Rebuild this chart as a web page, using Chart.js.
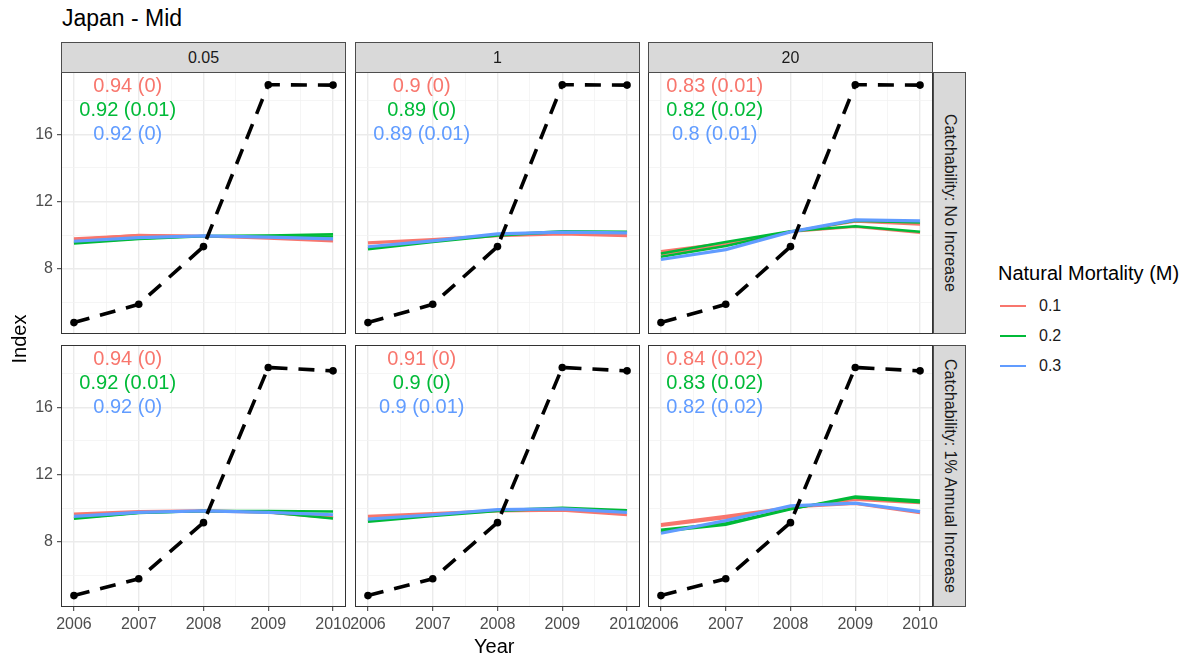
<!DOCTYPE html>
<html><head><meta charset="utf-8">
<script src="https://cdn.jsdelivr.net/npm/chart.js@4.4.1/dist/chart.umd.min.js"></script>
<style>
body{margin:0;background:#fff;width:1190px;height:658px;overflow:hidden;font-family:"Liberation Sans",Arial,sans-serif;}
#wrap{position:relative;width:1190px;height:658px;}
canvas{position:absolute;}
.txt{position:absolute;white-space:nowrap;line-height:1;}
.strip{position:absolute;background:#d9d9d9;border:1px solid #4d4d4d;box-sizing:border-box;color:#1a1a1a;font-size:16px;line-height:1;display:flex;align-items:center;justify-content:center;white-space:nowrap;}
.rstrip{writing-mode:vertical-rl;}
.key{position:absolute;height:2px;width:26px;}
</style></head><body><div id="wrap"></div>
<script>
// ---------- data ----------
const years = [2006, 2007, 2008, 2009, 2010];
const colLabels = ['0.05', '1', '20'];
const rowLabels = ['Catchability: No Increase', 'Catchability: 1% Annual Increase'];
const mLabels = ['0.1', '0.2', '0.3'];
const mColors = ['#F8766D', '#00BA38', '#619CFF'];
const yTickLabels = [8, 12, 16];
const xTickLabels = [2006, 2007, 2008, 2009, 2010];

const observedNoIncrease = [4.78, 5.87, 9.31, 18.96, 18.94];
const observedAnnualIncrease = [4.78, 5.78, 9.13, 18.38, 18.18];

// estimated indices (runs per natural mortality level)
const noInc_q005_M01 = [[9.73, 10.0, 9.93, 9.8, 9.63], [9.8, 9.98, 9.95, 9.85, 9.7]];
const noInc_q005_M02 = [[9.5, 9.77, 9.93, 9.97, 10.04], [9.55, 9.8, 9.95, 9.95, 9.92]];
const noInc_q005_M03 = [[9.63, 9.85, 9.95, 9.87, 9.77]];
const noInc_q1_M01 = [[9.53, 9.73, 9.97, 10.07, 9.97]];
const noInc_q1_M02 = [[9.18, 9.6, 10.0, 10.2, 10.17]];
const noInc_q1_M03 = [[9.3, 9.65, 10.07, 10.17, 10.13]];
const noInc_q20_M01 = [[9.03, 9.53, 10.19, 10.49, 10.13], [8.85, 9.4, 10.2, 10.8, 10.63]];
const noInc_q20_M02 = [[8.9, 9.58, 10.23, 10.52, 10.2], [8.7, 9.35, 10.2, 10.85, 10.75]];
const noInc_q20_M03 = [[8.54, 9.13, 10.19, 10.9, 10.84]];

const inc_q005_M01 = [[9.64, 9.79, 9.83, 9.75, 9.43]];
const inc_q005_M02 = [[9.36, 9.7, 9.83, 9.83, 9.79], [9.4, 9.72, 9.83, 9.75, 9.38]];
const inc_q005_M03 = [[9.5, 9.74, 9.83, 9.74, 9.6]];
const inc_q1_M01 = [[9.5, 9.67, 9.83, 9.87, 9.6]];
const inc_q1_M02 = [[9.2, 9.55, 9.85, 9.99, 9.85]];
const inc_q1_M03 = [[9.34, 9.6, 9.9, 9.95, 9.74]];
const inc_q20_M01 = [[9.04, 9.53, 10.05, 10.25, 9.7], [8.95, 9.4, 10.0, 10.5, 10.3]];
const inc_q20_M02 = [[8.6, 9.0, 9.93, 10.69, 10.45], [8.7, 9.1, 9.95, 10.62, 10.35]];
const inc_q20_M03 = [[8.5, 9.25, 10.13, 10.29, 9.79]];

// fit statistics text
const fitNoInc_q005 = ['0.94 (0)', '0.92 (0.01)', '0.92 (0)'];
const fitNoInc_q1 = ['0.9 (0)', '0.89 (0)', '0.89 (0.01)'];
const fitNoInc_q20 = ['0.83 (0.01)', '0.82 (0.02)', '0.8 (0.01)'];
const fitInc_q005 = ['0.94 (0)', '0.92 (0.01)', '0.92 (0)'];
const fitInc_q1 = ['0.91 (0)', '0.9 (0)', '0.9 (0.01)'];
const fitInc_q20 = ['0.84 (0.02)', '0.83 (0.02)', '0.82 (0.02)'];

// ---------- assembly ----------
const observed = [observedNoIncrease, observedAnnualIncrease];
const series = [
  [[noInc_q005_M01, noInc_q005_M02, noInc_q005_M03], [noInc_q1_M01, noInc_q1_M02, noInc_q1_M03], [noInc_q20_M01, noInc_q20_M02, noInc_q20_M03]],
  [[inc_q005_M01, inc_q005_M02, inc_q005_M03], [inc_q1_M01, inc_q1_M02, inc_q1_M03], [inc_q20_M01, inc_q20_M02, inc_q20_M03]]
];
const fits = [[fitNoInc_q005, fitNoInc_q1, fitNoInc_q20], [fitInc_q005, fitInc_q1, fitInc_q20]];

const FAMILY = '"Liberation Sans", Arial, sans-serif';
const wrap = document.getElementById('wrap');
const panelLefts = [61, 355, 648];
const panelTops = [72, 345];
const PW = 285, PH = 262;
const xGrid = [2006, 2006.5, 2007, 2007.5, 2008, 2008.5, 2009, 2009.5, 2010];
const yGrid = [6, 8, 10, 12, 14, 16, 18];

function addText(txt, left, top, size, color, extra) {
  const d = document.createElement('div');
  d.className = 'txt';
  d.textContent = txt;
  d.style.left = left + 'px'; d.style.top = top + 'px';
  d.style.fontSize = size + 'px'; d.style.color = color;
  if (extra) Object.assign(d.style, extra);
  wrap.appendChild(d);
  return d;
}

const annotPlugin = {
  id: 'annot',
  afterDatasetsDraw(chart, args, opts) {
    const ctx = chart.ctx, x = chart.scales.x, y = chart.scales.y;
    ctx.save();
    ctx.font = '20px ' + FAMILY;
    ctx.textAlign = 'center';
    ctx.textBaseline = 'middle';
    opts.labels.forEach((t, i) => {
      ctx.fillStyle = mColors[i];
      ctx.fillText(t, x.getPixelForValue(opts.x), y.getPixelForValue(opts.ys[i]));
    });
    const a = chart.chartArea;
    ctx.strokeStyle = '#333333';
    ctx.lineWidth = 1;
    ctx.strokeRect(a.left + 0.5, a.top + 0.5, a.right - a.left - 1, a.bottom - a.top - 1);
    ctx.restore();
  }
};
Chart.register(annotPlugin);

function makePanel(r, c) {
  const LEFT = 60, TOP = 10, RIGHT = 30, BOTTOM = 45;
  const pl = panelLefts[c], pt = panelTops[r];
  const cv = document.createElement('canvas');
  cv.width = LEFT + PW + RIGHT; cv.height = TOP + PH + BOTTOM;
  cv.style.width = cv.width + 'px'; cv.style.height = cv.height + 'px';
  cv.style.left = (pl - LEFT) + 'px'; cv.style.top = (pt - TOP) + 'px';
  wrap.appendChild(cv);
  const datasets = [];
  series[r][c].forEach((runs, m) => {
    runs.forEach(run => {
      datasets.push({
        data: years.map((yr, i) => ({x: yr, y: run[i]})),
        borderColor: mColors[m], backgroundColor: mColors[m],
        borderWidth: runs.length > 1 ? 2.5 : 3.2, pointRadius: 0, tension: 0,
        order: 4 - m
      });
    });
  });
  datasets.push({
    data: years.map((yr, i) => ({x: yr, y: observed[r][i]})),
    borderColor: '#000', backgroundColor: '#000', borderWidth: 3.6,
    borderDash: [16, 11], pointRadius: 3.8, pointBorderWidth: 0, tension: 0, order: 0
  });
  const showX = r === 1, showY = c === 0;
  new Chart(cv, {
    type: 'line',
    data: {datasets},
    options: {
      responsive: false, animation: false, devicePixelRatio: 1,
      layout: {padding: {top: TOP, right: RIGHT, left: 0, bottom: 0}},
      plugins: {
        legend: {display: false}, tooltip: {enabled: false},
        annot: {x: 2006.83, ys: [18.85, 17.42, 16.0], labels: fits[r][c]}
      },
      scales: {
        x: {
          type: 'linear', min: 2005.8, max: 2010.2,
          afterBuildTicks: s => { s.ticks = xGrid.map(v => ({value: v})); },
          afterFit: s => { s.height = BOTTOM; s.paddingLeft = 0; s.paddingRight = 0; },
          border: {display: false},
          grid: {
            color: ctx => Number.isInteger(ctx.tick.value) ? '#ebebeb' : '#f3f3f3',
            lineWidth: ctx => Number.isInteger(ctx.tick.value) ? 1.4 : 0.8,
            drawTicks: showX, tickLength: 4, tickWidth: 1,
            tickColor: ctx => (ctx.tick && Number.isInteger(ctx.tick.value)) ? '#333333' : 'rgba(0,0,0,0)'
          },
          ticks: {
            display: showX, autoSkip: false, maxRotation: 0, minRotation: 0, padding: 4,
            color: '#4d4d4d', font: {size: 16, family: FAMILY},
            callback: v => xTickLabels.includes(v) ? String(v) : ''
          }
        },
        y: {
          type: 'linear', min: 4.1, max: 19.72,
          afterBuildTicks: s => { s.ticks = yGrid.map(v => ({value: v})); },
          afterFit: s => { s.width = LEFT; s.paddingTop = 0; s.paddingBottom = 0; },
          border: {display: false},
          grid: {
            color: ctx => yTickLabels.includes(ctx.tick.value) ? '#ebebeb' : '#f3f3f3',
            lineWidth: ctx => yTickLabels.includes(ctx.tick.value) ? 1.4 : 0.8,
            drawTicks: showY, tickLength: 4, tickWidth: 1,
            tickColor: ctx => (ctx.tick && yTickLabels.includes(ctx.tick.value)) ? '#333333' : 'rgba(0,0,0,0)'
          },
          ticks: {
            display: showY, autoSkip: false, padding: 4,
            color: '#4d4d4d', font: {size: 16, family: FAMILY},
            callback: v => yTickLabels.includes(v) ? String(v) : ''
          }
        }
      }
    }
  });
}

for (let r = 0; r < 2; r++) for (let c = 0; c < 3; c++) makePanel(r, c);

// column strips
colLabels.forEach((lab, c) => {
  const d = document.createElement('div');
  d.className = 'strip';
  d.textContent = lab;
  Object.assign(d.style, {left: panelLefts[c] + 'px', top: '42px', width: PW + 'px', height: '31px'});
  wrap.appendChild(d);
});
// row strips
rowLabels.forEach((lab, r) => {
  const d = document.createElement('div');
  d.className = 'strip rstrip';
  d.textContent = lab;
  Object.assign(d.style, {left: (panelLefts[2] + PW) + 'px', top: panelTops[r] + 'px', width: '33px', height: PH + 'px'});
  wrap.appendChild(d);
});

// titles
addText('Japan - Mid', 62, 7, 23, '#000');
addText('Year', 474, 636, 20, '#000');
addText('Index', 19 - 25, 339 - 10, 20, '#000', {width: '50px', textAlign: 'center', transform: 'rotate(-90deg)'});

// legend
addText('Natural Mortality (M)', 998, 263, 20, '#000');
mLabels.forEach((lab, i) => {
  const yc = 306 + i * 30;
  const k = document.createElement('div');
  k.className = 'key';
  Object.assign(k.style, {left: '1000px', top: (yc - 1) + 'px', background: mColors[i]});
  wrap.appendChild(k);
  addText(lab, 1039, yc - 8, 16, '#1a1a1a');
});
</script>
</body></html>
